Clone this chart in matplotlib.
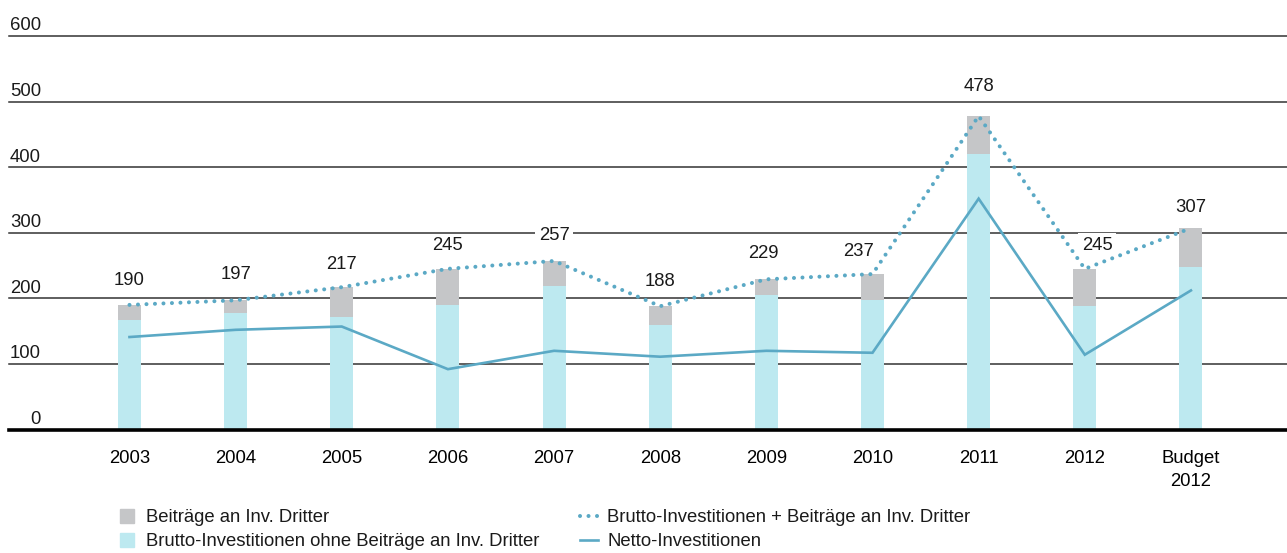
import matplotlib
matplotlib.use("Agg")
import matplotlib.pyplot as plt
from matplotlib.lines import Line2D

# data (Mio. CHF)
years = ["2003", "2004", "2005", "2006", "2007", "2008", "2009", "2010", "2011", "2012", "Budget\n2012"]
brutto_ohne = [167, 178, 172, 190, 219, 160, 205, 198, 420, 189, 248]
brutto_total = [190, 197, 217, 245, 257, 188, 229, 237, 478, 245, 307]
netto = [141, 152, 157, 92, 120, 111, 120, 117, 352, 114, 212]
beitraege = [t - b for t, b in zip(brutto_total, brutto_ohne)]

# label nudges in points (dx, dy)
lab_dx = [0, 0, 0, 0, 0, 0, -2, -10, 0, 9, 0]
lab_dy = [17.5, 18.5, 16, 16.5, 18, 17.5, 18.5, 16, 21, 17, 15]

CYAN = "#bde9f0"
GREY = "#c5c6c8"
BLUE = "#5ba9c5"
FS = 13.3

plt.rcParams['font.family'] = ['Liberation Sans', 'DejaVu Sans']
plt.rcParams['font.size'] = FS
plt.rcParams['text.color'] = '#1a1a1a'

fig = plt.figure(figsize=(12.87, 5.53), dpi=100)
ax = fig.add_axes([9/1287, 123.5/553, 1278/1287, (429.5-36)/553])

x = list(range(len(years)))
ax.bar(x, brutto_ohne, width=0.217, color=CYAN, zorder=2)
ax.bar(x, beitraege, bottom=brutto_ohne, width=0.217, color=GREY, zorder=2)
ax.plot(x, netto, color=BLUE, lw=1.9, zorder=3, solid_joinstyle='miter')
ax.plot(x, brutto_total, color=BLUE, lw=2.9, linestyle=(0, (0.01, 2.1)),
        dash_capstyle='round', zorder=3)

# gridlines and y labels
for v in range(100, 700, 100):
    ax.axhline(v, color='#333333', lw=1.1, zorder=0.5, clip_on=False)
for v in range(0, 700, 100):
    ax.annotate(str(v), xy=(0.025, v), xycoords=ax.get_yaxis_transform(),
                xytext=(0, 4), textcoords='offset points',
                ha='right', va='baseline', fontsize=FS)
ax.axhline(0, color='black', lw=2.6, zorder=4, clip_on=False)

# value labels (white box breaks the gridline, stays under the lines)
for i, t in enumerate(brutto_total):
    ax.annotate(str(t), xy=(i, t), xytext=(lab_dx[i], lab_dy[i]),
                textcoords='offset points', ha='center', va='center', fontsize=FS,
                bbox=dict(boxstyle='square,pad=0.2', fc='white', ec='none'),
                zorder=1.5)

ax.set_xlim(-1.135, 10.905)
ax.set_ylim(0, 600)
ax.set_yticks([])
ax.set_xticks(x)
ax.set_xticklabels(years, linespacing=1.45)
ax.tick_params(axis='x', length=0, pad=15, labelsize=FS)
for s in ax.spines.values():
    s.set_visible(False)

handles = [
    Line2D([], [], marker='s', markersize=10.5, color=GREY, linestyle='none'),
    Line2D([], [], marker='s', markersize=10.5, color=CYAN, linestyle='none'),
    Line2D([], [], color=BLUE, lw=2.9, linestyle=(0, (0.01, 2.1)), dash_capstyle='round'),
    Line2D([], [], color=BLUE, lw=1.9),
]
labels = ["Beiträge an Inv. Dritter",
          "Brutto-Investitionen ohne Beiträge an Inv. Dritter",
          "Brutto-Investitionen + Beiträge an Inv. Dritter",
          "Netto-Investitionen"]
fig.legend(handles, labels, ncol=2, loc='upper left', bbox_to_anchor=(118/1287, 1 - 509/553),
           frameon=False, fontsize=FS, handlelength=1.0, handletextpad=0.5,
           columnspacing=2.2, labelspacing=0.38, borderpad=0, borderaxespad=0)

plt.savefig("out.png", dpi=100)
